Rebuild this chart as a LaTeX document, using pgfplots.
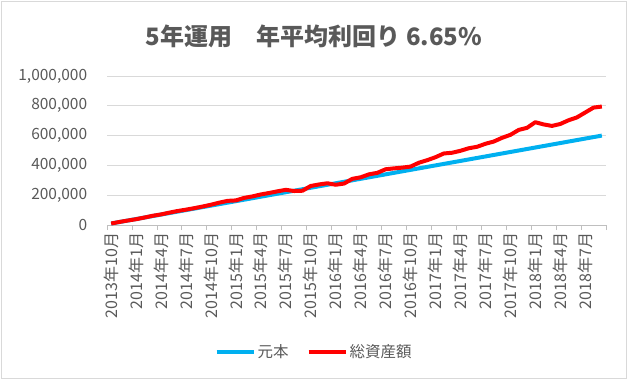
\documentclass[border=0pt]{standalone}
\usepackage{pgfplots}
\pgfplotsset{compat=1.18}
\usepackage{pgfplotstable}
\usepackage{fontspec}
\setmainfont{Noto Sans CJK JP}
\definecolor{txt}{HTML}{595959}
\definecolor{gridc}{HTML}{D9D9D9}
\definecolor{axc}{HTML}{BFBFBF}
\definecolor{blueline}{HTML}{00B0F0}
\definecolor{redline}{HTML}{FF0000}
\pgfplotstableread{
i principal total
0 10000 10000
1 20000 20500
2 30000 30000
3 40000 39000
4 50000 50000
5 60000 62000
6 70000 71000
7 80000 83000
8 90000 94000
9 100000 103000
10 110000 113000
11 120000 124000
12 130000 136000
13 140000 150000
14 150000 162000
15 160000 165000
16 170000 182000
17 180000 192000
18 190000 205000
19 200000 215000
20 210000 226000
21 220000 236000
22 230000 228000
23 240000 230000
24 250000 262000
25 260000 272000
26 270000 280000
27 280000 270000
28 290000 278000
29 300000 310000
30 310000 320000
31 320000 340000
32 330000 350000
33 340000 374000
34 350000 380000
35 360000 385000
36 370000 392000
37 380000 418000
38 390000 435000
39 400000 455000
40 410000 480000
41 420000 485000
42 430000 498000
43 440000 515000
44 450000 525000
45 460000 545000
46 470000 560000
47 480000 585000
48 490000 605000
49 500000 638000
50 510000 652000
51 520000 690000
52 530000 675000
53 540000 665000
54 550000 678000
55 560000 703000
56 570000 722000
57 580000 755000
58 590000 788000
59 600000 795000
}\datatable
\begin{document}
\begin{tikzpicture}[x=1pt,y=1pt]
\useasboundingbox (0,0) rectangle (628,380);
\draw[gridc, line width=0.8pt] (1.5,1.5) rectangle (626.5,378.5);
\node[text=txt, font=\fontsize{24}{28}\selectfont\bfseries] at (314,344) {5年運用\hspace{1em}年平均利回り 6.65\%};
\begin{axis}[
  at={(107pt,155pt)}, anchor=south west,
  scale only axis, width=499pt, height=149pt,
  xmin=-0.5, xmax=59.5, ymin=0, ymax=1000000,
  axis x line*=bottom, axis y line*=left,
  x axis line style={axc, line width=0.8pt, -},
  y axis line style={draw=none},
  xtick={0,3,...,57},
  xticklabels={2013年10月,2014年1月,2014年4月,2014年7月,2014年10月,2015年1月,2015年4月,2015年7月,2015年10月,2016年1月,2016年4月,2016年7月,2016年10月,2017年1月,2017年4月,2017年7月,2017年10月,2018年1月,2018年4月,2018年7月},
  major x tick style={draw=none},
  minor xtick={-0.5,2.5,...,59.5},
  minor x tick style={axc, line width=0.8pt},
  minor tick length=5pt,
  tick align=outside,
  xticklabel style={rotate=90, anchor=east, text=txt, font=\fontsize{16}{18}\selectfont},
  ytick={0,200000,...,1000000},
  scaled y ticks=false,
  ymajorgrids, major grid style={gridc, line width=0.8pt},
  yticklabel style={text=txt, font=\fontsize{15.5}{18}\selectfont, xshift=-12pt},
  yticklabel={\pgfmathprintnumber[fixed, 1000 sep={,}]{\tick}},
  /pgf/number format/assume math mode=true,
  major y tick style={draw=none},
  legend style={at={(0.415,-0.85)}, anchor=center, draw=none, fill=none,
    font=\fontsize{15.5}{18}\selectfont, text=txt, legend columns=2,
    /tikz/every even column/.append style={column sep=16pt}},
  legend image code/.code={\draw[#1, line width=4pt] (0pt,0pt) -- (37pt,0pt);},
  clip=false,
]
\addplot[blueline, line width=4pt, line join=round] table[x=i, y=principal] {\datatable};
\addlegendentry{元本}
\addplot[redline, line width=4pt, line join=round] table[x=i, y=total] {\datatable};
\addlegendentry{総資産額}
\end{axis}
\end{tikzpicture}
\end{document}
